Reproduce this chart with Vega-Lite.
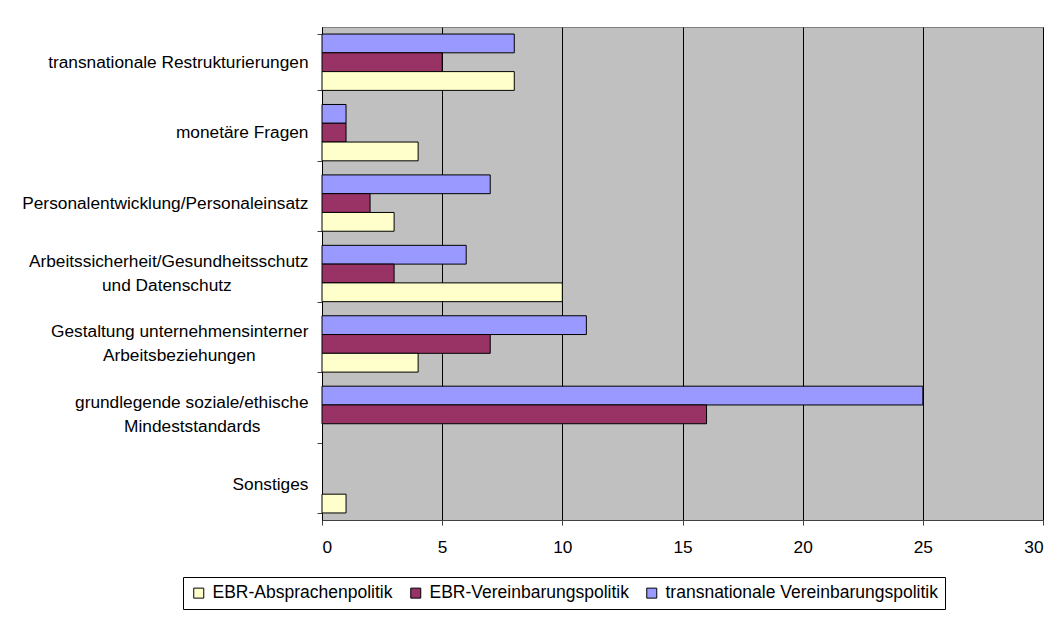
{
  "$schema": "https://vega.github.io/schema/vega-lite/v6.json",
  "autosize": "none",
  "width": 721,
  "height": 493,
  "padding": {"left": 322, "top": 27, "right": 10, "bottom": 99},
  "background": "white",
  "config": {
    "font": "Liberation Sans",
    "view": {"fill": "#C0C0C0", "stroke": "#808080", "strokeWidth": 1}
  },
  "data": {
    "values": [
      {"cat": "transnationale Restrukturierungen", "serie": "transnationale Vereinbarungspolitik", "wert": 8},
      {"cat": "transnationale Restrukturierungen", "serie": "EBR-Vereinbarungspolitik", "wert": 5},
      {"cat": "transnationale Restrukturierungen", "serie": "EBR-Absprachenpolitik", "wert": 8},
      {"cat": "monetäre Fragen", "serie": "transnationale Vereinbarungspolitik", "wert": 1},
      {"cat": "monetäre Fragen", "serie": "EBR-Vereinbarungspolitik", "wert": 1},
      {"cat": "monetäre Fragen", "serie": "EBR-Absprachenpolitik", "wert": 4},
      {"cat": "Personalentwicklung/Personaleinsatz", "serie": "transnationale Vereinbarungspolitik", "wert": 7},
      {"cat": "Personalentwicklung/Personaleinsatz", "serie": "EBR-Vereinbarungspolitik", "wert": 2},
      {"cat": "Personalentwicklung/Personaleinsatz", "serie": "EBR-Absprachenpolitik", "wert": 3},
      {"cat": "Arbeitssicherheit/Gesundheitsschutz|und Datenschutz", "serie": "transnationale Vereinbarungspolitik", "wert": 6},
      {"cat": "Arbeitssicherheit/Gesundheitsschutz|und Datenschutz", "serie": "EBR-Vereinbarungspolitik", "wert": 3},
      {"cat": "Arbeitssicherheit/Gesundheitsschutz|und Datenschutz", "serie": "EBR-Absprachenpolitik", "wert": 10},
      {"cat": "Gestaltung unternehmensinterner|Arbeitsbeziehungen", "serie": "transnationale Vereinbarungspolitik", "wert": 11},
      {"cat": "Gestaltung unternehmensinterner|Arbeitsbeziehungen", "serie": "EBR-Vereinbarungspolitik", "wert": 7},
      {"cat": "Gestaltung unternehmensinterner|Arbeitsbeziehungen", "serie": "EBR-Absprachenpolitik", "wert": 4},
      {"cat": "grundlegende soziale/ethische|Mindeststandards", "serie": "transnationale Vereinbarungspolitik", "wert": 25},
      {"cat": "grundlegende soziale/ethische|Mindeststandards", "serie": "EBR-Vereinbarungspolitik", "wert": 16},
      {"cat": "Sonstiges", "serie": "EBR-Absprachenpolitik", "wert": 1}
    ]
  },
  "mark": {"type": "bar", "stroke": "black", "strokeWidth": 1},
  "encoding": {
    "y": {
      "field": "cat",
      "type": "nominal",
      "sort": null,
      "scale": {
        "domain": [
          "transnationale Restrukturierungen",
          "monetäre Fragen",
          "Personalentwicklung/Personaleinsatz",
          "Arbeitssicherheit/Gesundheitsschutz|und Datenschutz",
          "Gestaltung unternehmensinterner|Arbeitsbeziehungen",
          "grundlegende soziale/ethische|Mindeststandards",
          "Sonstiges"
        ],
        "paddingInner": 0.2,
        "paddingOuter": 0.1
      },
      "axis": {
        "title": null,
        "labelExpr": "!datum.value ? '' : indexof(datum.value, 'Arbeitssicherheit') >= 0 ? ['Arbeitssicherheit/Gesundheitsschutz', 'und Datenschutz\u00a0\u00a0\u00a0\u00a0\u00a0\u00a0\u00a0\u00a0\u00a0\u00a0\u00a0\u00a0\u00a0\u00a0\u00a0\u00a0\u2060'] : indexof(datum.value, 'Gestaltung') >= 0 ? ['Gestaltung unternehmensinterner', 'Arbeitsbeziehungen\u00a0\u00a0\u00a0\u00a0\u00a0\u00a0\u00a0\u00a0\u00a0\u00a0\u00a0\u2060'] : indexof(datum.value, 'grundlegende') >= 0 ? ['grundlegende soziale/ethische', 'Mindeststandards\u00a0\u00a0\u00a0\u00a0\u00a0\u00a0\u00a0\u00a0\u00a0\u00a0\u2060'] : datum.value",
        "labelFontSize": 17.3,
        "labelColor": "black",
        "labelLineHeight": 24,
        "labelPadding": 9,
        "labelOffset": {
          "condition": {"test": "datum.value && indexof(datum.value, '|') >= 0", "value": -12},
          "value": 0
        },
        "labelLimit": 400,
        "tickBand": "extent",
        "tickSize": 5,
        "tickColor": "#404040",
        "domainColor": "black",
        "grid": false
      }
    },
    "yOffset": {
      "field": "serie",
      "type": "nominal",
      "sort": ["transnationale Vereinbarungspolitik", "EBR-Vereinbarungspolitik", "EBR-Absprachenpolitik"],
      "scale": {
        "domain": ["transnationale Vereinbarungspolitik", "EBR-Vereinbarungspolitik", "EBR-Absprachenpolitik"],
        "paddingInner": 0,
        "paddingOuter": 0
      }
    },
    "x": {
      "field": "wert",
      "type": "quantitative",
      "scale": {"domain": [0, 30], "nice": false},
      "axis": {
        "title": null,
        "values": [0, 5, 10, 15, 20, 25, 30],
        "labelFontSize": 17.3,
        "labelColor": "black",
        "labelPadding": 13,
        "tickSize": 5,
        "tickColor": "#404040",
        "domainColor": "#404040",
        "grid": true,
        "gridColor": "black",
        "gridWidth": 1
      }
    },
    "color": {
      "field": "serie",
      "type": "nominal",
      "scale": {
        "domain": ["EBR-Absprachenpolitik", "EBR-Vereinbarungspolitik", "transnationale Vereinbarungspolitik"],
        "range": ["#FFFFCC", "#993366", "#9999FF"]
      },
      "legend": {
        "title": null,
        "orient": "none",
        "direction": "horizontal",
        "legendX": -139,
        "legendY": 550,
        "strokeColor": "black",
        "fillColor": "white",
        "padding": 7,
        "labelFontSize": 17.5,
        "labelColor": "black",
        "labelLimit": 500,
        "symbolType": "square",
        "symbolSize": 100,
        "symbolStrokeColor": "black",
        "symbolStrokeWidth": 1,
        "symbolOpacity": 1,
        "columnPadding": 14,
        "labelOffset": 5
      }
    }
  }
}
